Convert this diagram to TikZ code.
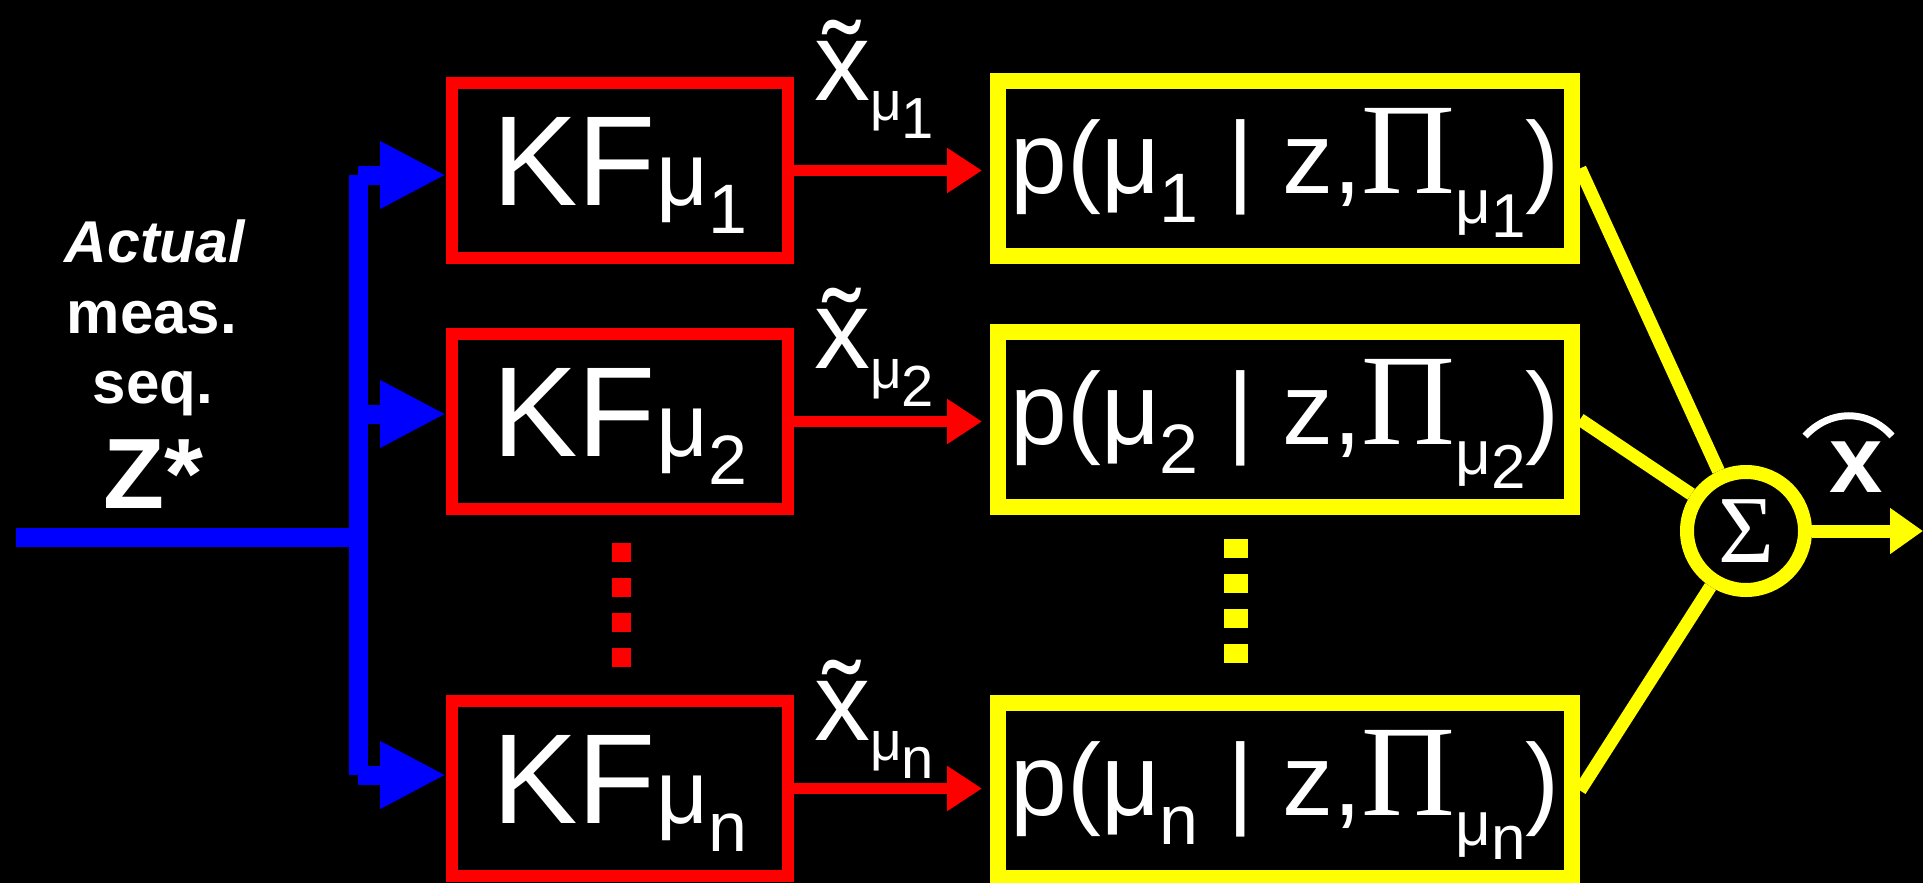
\documentclass[tikz,border=0pt]{standalone}
\usepackage{fontspec}
\setmainfont{Liberation Sans}
\newfontfamily\grk{Liberation Serif}
\usetikzlibrary{arrows.meta}
\definecolor{kred}{RGB}{255,0,0}
\definecolor{kblue}{RGB}{0,0,255}
\definecolor{kyel}{RGB}{255,255,0}
\newcommand{\fs}[1]{\fontsize{#1}{#1}\selectfont}
\newcommand{\kfl}[1]{\fs{128}\rule{0pt}{97pt}KF\kern1pt{\fs{90}μ}\raisebox{-28pt}{\fs{70}#1}}
\newcommand{\pl}[1]{\fs{102}\rule{0pt}{93pt}p(μ\raisebox{-29pt}{\fs{70}#1} | z,{\grk\fs{130}Π}\raisebox{-30pt}{\fs{62}μ}\raisebox{-44pt}{\fs{62}#1})}
\newcommand{\xl}[1]{\fs{112}x̃\raisebox{-20pt}{\fs{55}μ}\raisebox{-38pt}{\fs{58}#1}}
\tikzset{
  kfbox/.style={draw=kred, line width=12pt, minimum width=336pt, minimum height=175pt, inner sep=0pt, text=white},
  pbox/.style={draw=kyel, line width=16pt, minimum width=574pt, minimum height=175pt, inner sep=0pt, text=white},
  blueline/.style={kblue, line width=19pt},
  bluearr/.style={kblue, line width=19pt, -{Triangle[length=66pt,width=63pt]}},
  redarr/.style={kred, line width=11pt, -{Triangle[length=35pt,width=43pt]}, shorten >=8pt},
  yline/.style={kyel, line width=13pt},
  yarr/.style={kyel, line width=13pt, -{Triangle[length=33pt,width=44pt]}},
  sumnode/.style={circle, draw=kyel, line width=14pt, minimum size=118pt, inner sep=0pt, text=white},
  txt/.style={text=white, inner sep=0pt}
}
\begin{document}
\begin{tikzpicture}[x=1pt,y=-1pt]
\fill[black] (0,0) rectangle (1923,883);
\useasboundingbox (0,0) rectangle (1923,883);

% left text
\node[txt, anchor=base] (t1) at (155,262) {\fs{59}\bfseries\itshape Actual};
\node[txt, anchor=base] (t2) at (152,333) {\fs{60}\bfseries meas.};
\node[txt, anchor=base] (t3) at (153,403) {\fs{60}\bfseries seq.};
\node[txt, anchor=base] (t4) at (153,508) {\fs{100}\bfseries Z*};

% KF boxes
\node[kfbox] (kf1) at (620,170.5) {\kfl{1}};
\node[kfbox] (kf2) at (620,421.5) {\kfl{2}};
\node[kfbox] (kfn) at (620,788.5) {\kfl{n}};

% probability boxes
\node[pbox] (p1) at (1285,168.5) {\pl{1}};
\node[pbox] (p2) at (1285,419.5) {\pl{2}};
\node[pbox] (pn) at (1285,790.5) {\pl{n}};

% summation
\node[sumnode] (sig) at (1746,531) {{\grk\fs{96}Σ}};
\node[txt, anchor=base] (xh) at (1856,492) {\fs{96}\bfseries x};
\draw[white, line width=7pt] (1805,436) .. controls (1830,409) and (1868,409) .. (1892,436);

% blue input
\coordinate (in) at (16,537);
\coordinate (split) at (358,537);
\coordinate (b1) at (358,175);
\coordinate (b2) at (358,414);
\coordinate (bn) at (358,775);
\draw[blueline] (in) -- (split);
\draw[blueline] (b1) -- (bn);
\draw[bluearr] (b1) -- (b1 -| kf1.west);
\draw[bluearr] (b2) -- (b2 -| kf2.west);
\draw[bluearr] (bn) -- (bn -| kfn.west);

% red arrows
\draw[redarr] (kf1.east) -- (kf1.east -| p1.west);
\draw[redarr] (kf2.east) -- (kf2.east -| p2.west);
\draw[redarr] (kfn.east) -- (kfn.east -| pn.west);

% x tilde labels
\node[txt, anchor=base west] (x1) at (814,100) {\xl{1}};
\node[txt, anchor=base west] (x2) at (814,368) {\xl{2}};
\node[txt, anchor=base west] (xn) at (814,740) {\xl{n}};

% dotted continuations
\draw[kred, line width=19pt, dash pattern=on 19pt off 16pt] (621,543) -- (621,668);
\draw[kyel, line width=24pt, dash pattern=on 19pt off 16pt] (1236,539) -- (1236,664);

% yellow lines to sum
\draw[yline] (p1.east) -- (sig);
\draw[yline] (p2.east) -- (sig);
\draw[yline] (pn.east) -- (sig);
\coordinate (out) at (1923,531);
\draw[yarr] (sig) -- (out);
\end{tikzpicture}
\end{document}
